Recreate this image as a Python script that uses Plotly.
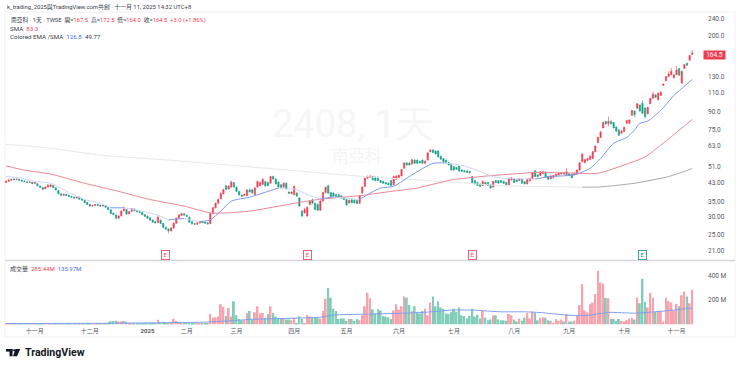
import math
import plotly.graph_objects as go

opens = [
 43.0,43.6,44.1,44.6,44.4,44.5,44.0,43.7,43.3,43.0,
 43.1,42.6,42.5,41.5,40.8,40.3,41.0,41.2,41.7,40.7,
 39.6,38.2,37.6,38.0,37.6,37.2,36.9,36.6,36.9,36.2,
 35.7,34.9,34.2,33.6,33.9,34.2,33.9,33.6,33.8,33.1,
 32.3,31.2,30.6,29.6,30.4,32.0,32.4,31.0,31.8,32.6,
 32.0,31.7,31.4,30.7,30.2,29.7,29.0,28.5,28.3,29.0,
 28.0,26.9,26.4,25.9,26.7,28.1,29.6,30.5,31.0,30.5,
 29.9,28.5,27.9,27.8,28.2,28.6,28.4,28.2,28.0,31.1,
 33.0,34.6,36.3,38.2,41.5,40.2,41.0,43.0,41.0,39.2,
 37.7,37.5,37.5,39.8,39.9,37.9,41.0,41.6,42.2,43.4,
 43.0,42.7,45.8,44.6,43.2,42.0,41.0,42.7,38.9,38.3,
 37.9,38.5,36.6,31.9,31.3,30.3,34.2,35.9,34.6,34.2,
 32.2,35.4,38.7,41.6,38.7,38.5,37.9,37.8,37.4,36.8,
 36.0,34.7,35.9,35.7,35.6,34.6,38.5,41.3,45.0,45.4,
 45.8,45.5,45.5,43.9,43.5,43.0,42.7,43.9,42.0,44.5,
 45.4,46.1,49.9,52.8,52.8,52.2,54.4,54.4,53.7,54.4,
 52.6,54.4,59.4,60.5,59.9,59.9,56.7,55.3,54.4,53.0,
 52.0,50.8,50.4,51.0,49.0,48.7,48.6,48.3,45.8,43.9,
 43.0,42.4,41.7,43.0,43.0,42.0,41.0,43.9,43.8,43.9,
 43.5,43.0,42.0,44.2,44.6,44.2,43.9,44.5,43.5,42.4,
 43.8,44.7,48.7,46.6,46.3,47.2,48.0,45.8,44.8,45.4,
 46.1,46.6,47.0,47.6,46.6,47.1,46.9,46.6,47.1,49.0,
 53.5,52.9,54.2,54.8,55.3,59.4,65.3,69.0,76.2,81.6,
 79.8,81.6,80.6,77.0,74.7,72.1,73.4,80.0,80.0,87.0,
 91.0,93.7,97.0,98.8,94.0,88.4,98.2,104.0,107.8,102.3,
 107.2,119.0,125.0,130.7,133.0,129.0,133.0,142.0,121.9,142.0,
 150.0,155.0,164.5,
]
closes = [
 43.6,44.1,44.4,44.3,44.5,44.1,43.7,43.4,43.0,43.2,
 42.5,42.9,41.6,40.9,40.1,41.0,41.8,41.9,40.8,39.8,
 38.2,37.6,38.0,37.5,37.2,36.9,36.6,36.9,36.1,35.8,
 34.8,34.2,33.6,33.8,34.1,33.9,33.6,33.8,33.2,32.4,
 31.1,30.7,29.6,30.3,31.9,32.5,30.9,31.7,32.7,32.0,
 31.7,31.4,30.7,30.2,29.6,29.0,28.4,28.2,29.9,28.0,
 26.9,26.4,25.9,26.7,28.1,29.6,30.6,31.0,30.6,30.2,
 28.4,27.9,27.8,28.1,28.6,28.3,28.1,27.9,31.0,33.0,
 34.6,36.0,38.3,39.9,40.0,41.5,43.2,41.0,39.2,37.8,
 37.3,38.0,39.8,39.0,38.6,40.6,43.5,43.0,44.4,41.5,
 41.6,45.8,44.6,42.4,41.0,40.8,42.7,40.3,38.5,38.9,
 41.3,37.4,33.6,30.3,32.4,33.2,35.4,34.6,32.4,32.2,
 35.4,38.7,40.9,38.5,37.2,37.2,36.9,36.9,36.6,36.0,
 34.0,35.7,34.8,34.8,34.5,37.4,41.0,45.0,45.8,46.0,
 44.2,43.9,43.9,43.0,42.7,42.4,42.0,41.7,45.8,46.0,
 46.4,49.3,52.8,51.7,51.7,54.6,52.6,52.6,52.8,52.6,
 53.8,58.7,60.5,58.9,58.0,56.3,54.9,53.5,53.2,51.7,
 49.0,49.0,49.4,48.5,48.4,48.1,47.9,47.6,43.0,42.4,
 41.7,41.3,43.5,42.0,41.7,40.6,43.5,43.0,42.7,43.0,
 42.7,42.0,45.0,45.2,43.0,43.5,44.5,42.7,42.4,44.5,
 45.0,47.6,45.8,45.8,48.2,48.2,45.5,44.5,46.1,46.3,
 46.9,47.4,47.6,47.0,48.2,46.4,45.2,47.4,49.0,52.9,
 58.0,54.6,55.3,56.7,59.4,63.0,69.0,73.0,80.6,79.5,
 81.6,79.5,76.2,73.7,70.6,73.9,76.8,82.3,82.9,91.5,
 87.6,98.2,91.0,89.0,85.9,94.6,104.0,108.6,105.0,109.7,
 110.5,120.7,130.7,134.0,138.0,133.0,140.0,132.5,138.0,148.0,
 147.0,163.0,167.5,
]
highs = [
 44.0,44.5,44.8,44.9,44.9,44.7,44.3,43.9,43.6,43.5,
 43.3,43.2,42.7,41.7,41.0,41.3,42.2,42.3,41.9,40.9,
 39.8,38.4,38.3,38.2,37.9,37.5,37.1,37.2,37.1,36.5,
 35.9,35.1,34.4,34.1,34.4,34.4,34.1,34.0,34.0,33.3,
 32.5,31.4,30.8,30.5,32.1,33.7,32.6,32.0,33.0,32.8,
 32.2,31.9,31.6,30.9,30.4,29.9,29.2,28.7,30.5,29.2,
 28.2,27.1,26.6,27.0,28.3,29.8,30.9,31.3,31.2,30.7,
 30.1,28.7,28.2,28.4,28.8,28.8,28.6,28.4,31.3,33.3,
 34.9,36.5,38.8,40.3,41.9,41.8,43.8,43.3,41.2,39.4,
 38.0,38.3,40.1,40.5,40.2,40.9,43.9,43.4,45.0,43.8,
 43.4,46.2,46.2,44.9,43.5,42.3,43.0,43.0,39.2,39.2,
 41.7,38.8,36.9,32.2,33.0,33.5,35.7,36.4,34.9,34.5,
 35.7,39.0,41.2,42.0,39.0,38.8,38.2,38.0,37.7,37.0,
 36.3,36.0,36.2,36.0,35.9,37.7,41.3,45.4,46.3,46.5,
 46.2,45.8,45.8,44.2,43.8,43.3,43.0,44.2,46.2,46.4,
 46.8,49.6,53.2,53.2,53.0,55.0,54.8,54.7,54.0,54.7,
 54.2,59.0,61.0,61.0,60.2,60.2,57.0,55.6,54.7,53.3,
 52.3,51.0,50.7,51.3,49.3,49.0,48.9,48.6,46.1,44.2,
 43.3,42.7,43.9,43.4,43.3,42.3,43.8,44.2,44.1,44.2,
 43.8,43.3,45.3,45.5,44.9,44.5,45.3,44.8,43.7,44.8,
 45.3,48.0,49.0,47.0,48.6,48.6,48.3,46.1,46.4,46.6,
 47.2,47.7,48.0,48.0,49.9,47.4,47.2,47.7,49.4,53.2,
 58.5,55.0,55.7,57.2,59.9,63.5,69.5,74.0,81.5,82.0,
 85.9,82.5,81.0,77.4,75.0,74.2,77.2,82.7,83.3,92.0,
 91.5,99.0,97.5,102.0,94.5,95.0,104.5,112.0,108.2,110.3,
 112.5,121.0,131.5,138.0,143.0,133.5,146.0,143.0,139.0,149.0,
 151.0,164.0,172.5,
]
lows = [
 42.8,43.3,43.9,44.1,44.1,43.9,43.5,43.2,42.8,42.8,
 42.3,42.3,41.4,40.7,39.8,40.1,40.8,41.0,40.6,39.6,
 38.0,37.3,37.4,37.3,37.0,36.7,36.4,36.4,35.9,35.6,
 34.6,34.0,33.4,33.4,33.7,33.7,33.4,33.4,33.0,32.2,
 30.9,30.5,29.3,29.4,30.2,31.8,30.7,30.8,31.5,31.8,
 31.5,31.2,30.5,30.0,29.4,28.8,28.2,28.0,28.1,27.8,
 26.7,26.2,25.2,25.7,26.5,27.9,29.4,30.3,30.4,30.0,
 28.2,27.7,27.6,27.6,27.9,28.1,27.9,27.7,27.8,30.9,
 32.8,34.4,36.1,38.0,39.8,40.0,40.8,40.8,39.0,37.6,
 37.0,37.3,37.3,38.7,38.3,37.7,40.8,41.3,42.0,41.3,
 41.4,42.5,44.4,42.2,40.8,40.6,40.8,40.1,38.0,38.1,
 37.7,37.0,33.4,29.9,31.1,30.0,34.0,34.4,32.2,32.0,
 32.0,35.2,38.5,38.3,37.0,37.0,36.7,36.6,36.4,35.8,
 33.7,34.5,34.6,34.6,34.3,34.4,38.3,41.1,44.8,45.2,
 44.0,43.7,43.7,42.8,42.5,42.2,41.8,41.5,41.8,44.3,
 45.2,45.9,49.7,51.5,51.4,52.0,52.4,52.4,52.6,52.4,
 52.4,54.2,59.2,58.7,57.8,56.0,54.7,53.3,53.0,51.5,
 48.8,48.8,49.2,48.3,48.2,47.9,47.7,47.4,42.8,42.2,
 41.5,41.1,41.4,41.8,41.5,40.4,40.8,42.8,42.5,42.8,
 42.5,41.8,41.8,44.0,42.8,43.3,43.7,42.5,42.2,42.2,
 43.6,44.5,45.6,45.6,46.1,47.0,45.3,44.3,44.6,45.2,
 45.9,46.4,46.8,46.8,46.4,46.2,45.0,46.4,46.9,48.8,
 53.3,52.7,54.0,54.6,55.1,59.2,65.0,68.8,76.0,79.2,
 77.5,79.2,76.0,73.4,70.3,71.8,73.1,79.7,79.7,86.5,
 85.5,93.4,90.5,88.5,84.0,88.0,97.8,103.5,104.6,102.0,
 106.8,118.8,124.5,130.3,132.6,128.0,132.5,132.0,121.3,141.5,
 146.5,154.5,164.0,
]
volumes_m = [
 8,6,7,9,7,6,8,7,6,7,
 6,8,12,9,7,6,8,7,9,8,
 7,9,6,8,7,6,7,8,6,7,
 12,14,10,8,7,8,6,9,12,16,
 26,28,30,25,24,28,22,14,12,10,
 8,7,9,8,7,9,8,10,38,18,
 22,16,14,16,48,28,20,14,16,18,
 10,8,7,9,6,8,7,9,
 85,55,60,65,165,145,70,135,65,190,75,45,35,35,95,110,
 40,100,150,90,95,55,85,150,95,65,50,50,50,40,40,35,55,15,65,45,10,75,65,60,60,55,
 50,
 110,210,300,220,130,110,45,50,50,30,
 45,45,30,45,35,75,150,260,215,125,
 90,125,115,70,65,60,45,115,165,120,
 150,230,220,160,110,150,100,90,110,130,
 75,180,230,150,190,140,130,90,85,100,
 130,105,140,75,70,50,70,130,65,80,
 50,110,55,35,40,75,75,40,
 35,35,30,85,75,40,25,50,30,55,
 95,50,105,95,35,55,60,55,35,30,
 15,45,30,40,25,85,25,25,30,70,
 160,330,115,100,165,180,250,440,345,335,
 220,215,45,45,30,45,30,25,35,50,
 55,40,220,175,375,185,140,260,220,105,
 105,110,25,220,190,180,115,170,150,240,
 270,230,175,285,
]
assert len(opens) == len(closes) == len(highs) == len(lows) == len(volumes_m)

fast_idx = [0,6,11,17,24,30,36,40,45,51,57,62,68,74,78,82,86,93,100,104,107,111,115,120,125,129,135,139,143,148,153,158,163,168,175,181,186,189,202,208,217,223,227,232,237,240,242,245,250,255,262]
fast_val = [45.8,45.0,43.5,42.7,38.7,36.0,34.6,33.0,33.0,32.0,30.8,29.1,29.5,28.5,29.1,31.9,35.4,36.9,39.2,40.6,40.3,39.9,37.9,36.2,37.0,36.6,36.0,38.5,40.6,41.3,45.0,49.0,52.6,52.8,51.2,48.2,45.8,45.1,44.6,45.8,46.6,49.9,55.3,64.9,69.0,74.7,80.0,81.9,91.6,107.0,126.8]
mid_idx = [0,7,17,30,43,55,68,78,85,94,106,119,136,147,157,170,183,189,202,214,226,237,244,253,262]
mid_val = [51.2,49.0,47.0,42.7,39.2,36.0,33.6,31.3,31.3,32.0,33.9,36.0,37.6,39.2,40.6,44.2,46.0,46.6,47.8,47.6,47.4,52.2,56.3,68.0,83.3]
slow_idx = [0,17,36,62,94,137,157,176,189,202,220,226,240,253,262]
slow_val = [64.2,61.6,57.3,54.4,50.6,45.8,44.2,42.7,41.6,41.3,41.0,41.0,42.7,45.8,49.77]
volma_idx = [0,38,62,77,94,100,120,125,137,148,160,170,178,189,198,205,214,218,223,230,240,246,255,262]
volma_val = [8,10,15,20,42,46,60,77,85,90,100,118,118,104,104,96,77,74,77,99,93,101,118,135.97]

y_ticks = [240,200,130,110,90,75,63,51,43,35,30,25,21]
y_ticktext = ["240.0","200.0","130.0","110.0","90.0","75.0","63.0","51.0","43.00","35.00","30.00","25.00","21.00"]
vol_ticks = [200,400]
vol_ticktext = ["200 M","400 M"]
month_idx = [11,32,54,69,88,110,130,150,171,194,215,236,256]
month_text = ["十一月","十二月","<b>2025</b>","二月","三月","四月","五月","六月","七月","八月","九月","十月","十一月"]
earn_idx = [61,115,178,243]
earn_colors = ["#e0566a","#e0566a","#e0566a","#2a9d8a"]

W, H = 740, 367
RED = "#ee3f52"
GREEN = "#1b9f86"
FONT = "Roboto, Noto Sans CJK TC, sans-serif"
xdom = [5/W, 698/W]
def py(p):
    return 1 - p/H

x = list(range(len(opens)))
fig = go.Figure()

def falling_runs(idx, val):
    runs, start = [], 0
    for k in range(1, len(val)-1):
        if (val[k+1] < val[k]) != (val[k] < val[k-1]):
            runs.append((start, k, val[k] < val[k-1]))
            start = k
    runs.append((start, len(val)-1, val[-1] < val[-2]))
    return runs

def add_line(idx, val, rise, fall, width=1.0):
    for a, b, down in falling_runs(idx, val):
        fig.add_trace(go.Scatter(x=idx[a:b+1], y=val[a:b+1], mode="lines",
                                 line=dict(color=fall if down else rise, width=width, shape="spline", smoothing=0.6),
                                 hoverinfo="skip", xaxis="x", yaxis="y"))

add_line(slow_idx, slow_val, "#a9a9a9", "#e8e8e8")
fig.add_trace(go.Scatter(x=mid_idx, y=mid_val, mode="lines", line=dict(color="#ec8695", width=1.0, shape="spline", smoothing=0.6),
                         hoverinfo="skip", xaxis="x", yaxis="y"))
add_line(fast_idx, fast_val, "#7f97ea", "#ccd5f6")

fig.add_trace(go.Candlestick(x=x, open=opens, high=highs, low=lows, close=closes,
    increasing=dict(line=dict(color=RED, width=0.6), fillcolor=RED),
    decreasing=dict(line=dict(color=GREEN, width=0.6), fillcolor=GREEN),
    whiskerwidth=0, xaxis="x", yaxis="y", hoverinfo="skip"))

vol_colors = ["#f6a3ad" if c >= o else "#82cdb9" for o, c in zip(opens, closes)]
fig.add_trace(go.Bar(x=x, y=volumes_m, marker=dict(color=vol_colors, line=dict(width=0)), xaxis="x", yaxis="y2", hoverinfo="skip"))
fig.add_trace(go.Scatter(x=volma_idx, y=volma_val, mode="lines", line=dict(color="#7f9fee", width=1.0, shape="spline", smoothing=0.6),
                         hoverinfo="skip", xaxis="x", yaxis="y2"))

anns = []
def txt(px, pyy, s, size=7.5, color="#3a3e4a", anchor="left", family=FONT):
    anns.append(dict(xref="paper", yref="paper", x=px/W, y=py(pyy), text=s, showarrow=False, xanchor=anchor, yanchor="middle",
                     font=dict(family=family, size=size, color=color)))

def c(s, col=RED):
    return f"<span style='color:{col}'>{s}</span>"

txt(5, 7, "k_trading_2025與TradingView.com共創 · 十一月 11, 2025 14:32 UTC+8", size=5.9)
txt(9, 20.3, "南亞科 · 1天 · TWSE  開=" + c("167.5") + "  高=" + c("172.5") + "  低=" + c("164.0") + "  收=" + c("164.5") + "  " + c("+3.0 (+1.86%)"), size=5.8)
txt(8, 28.7, "SMA  " + c("83.3"), size=6.2)
txt(8, 36.8, "Colored EMA /SMA  " + c("126.8", "#4a72e8") + "  49.77", size=6.2)
txt(8, 268.5, "成交量  " + c("285.44M") + "  " + c("135.97M", "#4a72e8"), size=6)

txt(353, 124, "2408, 1天", size=38, color="#f6f6f8", anchor="center")
txt(357, 156, "南亞科", size=16.5, color="#f4f4f6", anchor="center")

anns.append(dict(xref="paper", yref="y", x=714.5/W, y=math.log10(164.5), text="164.5", showarrow=False, xanchor="center", yanchor="middle",
                 width=21, height=8, font=dict(family="Roboto", size=6.5, color="#ffffff"), bgcolor="#ee3f52", borderpad=0))

for i, col in zip(earn_idx, earn_colors):
    anns.append(dict(xref="x", yref="paper", x=i, y=py(254.5), text="E", showarrow=False, xanchor="center", yanchor="middle",
                     width=7, height=8, font=dict(family="Roboto", size=6, color=col), bgcolor="#ffffff", bordercolor=col, borderwidth=0.9, borderpad=0))

anns.append(dict(xref="paper", yref="paper", x=23/W, y=py(352), text="<b>TradingView</b>", showarrow=False, xanchor="left", yanchor="middle",
                 font=dict(family="Roboto", size=10.6, color="#131722")))

def pr(x0, y0, x1, y1, color):
    return dict(type="rect", xref="paper", yref="paper", x0=x0/W, x1=x1/W, y0=py(y0), y1=py(y1), fillcolor=color, line=dict(width=0), layer="above")

def path(pts, color):
    d = "M " + " L ".join(f"{px/W:.5f},{py(p):.5f}" for px, p in pts) + " Z"
    return dict(type="path", xref="paper", yref="paper", path=d, fillcolor=color, line=dict(width=0), layer="above")

shapes = [
    dict(type="rect", xref="paper", yref="paper", x0=5/W, x1=735/W, y0=py(337), y1=py(12), line=dict(color="#f0f1f4", width=1), fillcolor="rgba(0,0,0,0)", layer="below"),
    dict(type="line", xref="paper", yref="paper", x0=5/W, x1=735/W, y0=py(260.5), y1=py(260.5), line=dict(color="#d5d7dc", width=1.5), layer="above"),
    pr(6, 349, 12.5, 351.6, "#131722"),
    pr(9.5, 349, 12.5, 356.3, "#131722"),
    path([(15.5, 349), (20.2, 349), (17, 356.3), (13, 356.3)], "#131722"),
    dict(type="circle", xref="paper", yref="paper", x0=13/W, x1=15.2/W, y0=py(351.4), y1=py(349.2), fillcolor="#131722", line=dict(width=0), layer="above"),
]

fig.update_layout(
    width=W, height=H, margin=dict(l=0, r=0, t=0, b=0), paper_bgcolor="#ffffff", plot_bgcolor="rgba(0,0,0,0)",
    showlegend=False, bargap=0.28, annotations=anns, shapes=shapes, dragmode=False,
    font=dict(family=FONT),
    xaxis=dict(domain=xdom, range=[-0.4, 264.2], anchor="y2", showgrid=False, zeroline=False, showline=False,
               tickmode="array", tickvals=month_idx, ticktext=month_text, ticks="", rangeslider=dict(visible=False),
               tickfont=dict(family=FONT, size=6, color="#55585f"), ticklabelstandoff=1),
    yaxis=dict(domain=[py(260), py(12)], type="log", range=[1.2810, 2.4098], side="right", anchor="x", showgrid=False, zeroline=False, showline=False,
               tickmode="array", tickvals=y_ticks, ticktext=y_ticktext, ticks="", ticklabelstandoff=9,
               tickfont=dict(family="Roboto", size=6.5, color="#55585f")),
    yaxis2=dict(domain=[py(324.5), py(262)], range=[0, 512], side="right", anchor="x", showgrid=False, zeroline=False, showline=False,
                tickmode="array", tickvals=vol_ticks, ticktext=vol_ticktext, ticks="", ticklabelstandoff=9,
                tickfont=dict(family="Roboto", size=6.5, color="#55585f")),
)
fig.write_html("out.html", config={"displayModeBar": False}, post_script="document.body.style.margin='0';")
